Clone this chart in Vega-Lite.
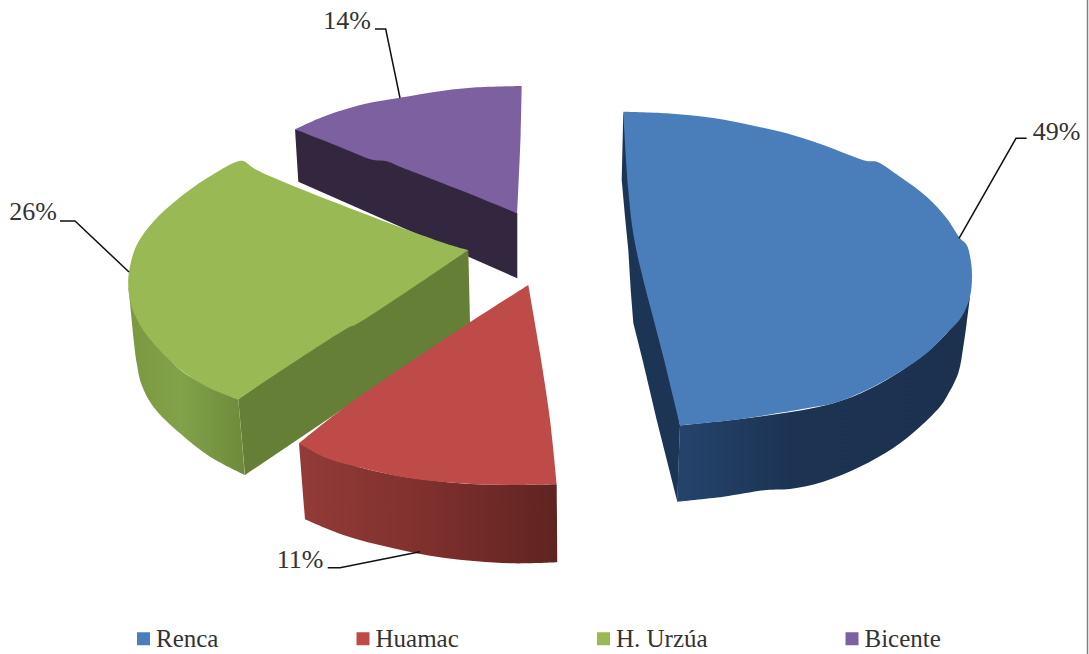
{
  "$schema": "https://vega.github.io/schema/vega-lite/v6.json",
  "width": 1089,
  "height": 654,
  "padding": 0,
  "autosize": {"type": "none"},
  "background": "white",
  "config": {"view": {"stroke": null}},
  "datasets": {
    "outlines": [
      {"slice":"Bicente","face":"wall","i":1,"x":29.5,"y":12.93},{"slice":"Bicente","face":"wall","i":2,"x":29.83,"y":18.17},{"slice":"Bicente","face":"wall","i":3,"x":51.73,"y":27.83},{"slice":"Bicente","face":"wall","i":4,"x":51.73,"y":21.33},{"slice":"Bicente","face":"wall","i":5,"x":40,"y":15.5},
      {"slice":"H. Urzúa","face":"wall","i":1,"x":23.83,"y":39.93},{"slice":"H. Urzúa","face":"wall","i":2,"x":24.5,"y":47.5},{"slice":"H. Urzúa","face":"wall","i":3,"x":47,"y":32.33},{"slice":"H. Urzúa","face":"wall","i":4,"x":46.83,"y":25},{"slice":"H. Urzúa","face":"wall","i":5,"x":35,"y":32},
      {"slice":"H. Urzúa","face":"rim","i":1,"x":12.83,"y":28.67},{"slice":"H. Urzúa","face":"rim","i":1,"x":12.83,"y":28.67},{"slice":"H. Urzúa","face":"rim","i":2,"x":13,"y":30.3},{"slice":"H. Urzúa","face":"rim","i":3,"x":13.67,"y":36.3},{"slice":"H. Urzúa","face":"rim","i":4,"x":14.17,"y":38.5},{"slice":"H. Urzúa","face":"rim","i":5,"x":15.33,"y":40.67},{"slice":"H. Urzúa","face":"rim","i":6,"x":18,"y":43.33},{"slice":"H. Urzúa","face":"rim","i":7,"x":21,"y":45.67},{"slice":"H. Urzúa","face":"rim","i":8,"x":24.5,"y":47.5},{"slice":"H. Urzúa","face":"rim","i":8,"x":24.5,"y":47.5},{"slice":"H. Urzúa","face":"rim","i":9,"x":23.83,"y":39.93},{"slice":"H. Urzúa","face":"rim","i":9,"x":23.83,"y":39.93},{"slice":"H. Urzúa","face":"rim","i":10,"x":17.67,"y":36.67},
      {"slice":"Huamac","face":"rim","i":1,"x":29.9,"y":44.33},{"slice":"Huamac","face":"rim","i":1,"x":29.9,"y":44.33},{"slice":"Huamac","face":"rim","i":2,"x":30.5,"y":51.93},{"slice":"Huamac","face":"rim","i":2,"x":30.5,"y":51.93},{"slice":"Huamac","face":"rim","i":3,"x":34.33,"y":53.5},{"slice":"Huamac","face":"rim","i":4,"x":39.33,"y":54.83},{"slice":"Huamac","face":"rim","i":5,"x":44.33,"y":55.77},{"slice":"Huamac","face":"rim","i":6,"x":51,"y":56.33},{"slice":"Huamac","face":"rim","i":7,"x":55.73,"y":56.23},{"slice":"Huamac","face":"rim","i":7,"x":55.73,"y":56.23},{"slice":"Huamac","face":"rim","i":8,"x":55.67,"y":48.43},{"slice":"Huamac","face":"rim","i":8,"x":55.67,"y":48.43},{"slice":"Huamac","face":"rim","i":9,"x":46,"y":48.33},{"slice":"Huamac","face":"rim","i":10,"x":36.33,"y":46.83},
      {"slice":"Renca","face":"wall","i":1,"x":62.33,"y":11.17},{"slice":"Renca","face":"wall","i":2,"x":62.17,"y":18},{"slice":"Renca","face":"wall","i":3,"x":62.5,"y":21.67},{"slice":"Renca","face":"wall","i":4,"x":62.83,"y":25},{"slice":"Renca","face":"wall","i":5,"x":63.07,"y":29},{"slice":"Renca","face":"wall","i":6,"x":63.33,"y":32.3},{"slice":"Renca","face":"wall","i":7,"x":64.33,"y":36.3},{"slice":"Renca","face":"wall","i":8,"x":65.67,"y":42},{"slice":"Renca","face":"wall","i":9,"x":67.73,"y":50.17},{"slice":"Renca","face":"wall","i":10,"x":68,"y":42.53},
      {"slice":"Renca","face":"rim","i":1,"x":68,"y":42.53},{"slice":"Renca","face":"rim","i":1,"x":68,"y":42.53},{"slice":"Renca","face":"rim","i":2,"x":67.73,"y":50.17},{"slice":"Renca","face":"rim","i":2,"x":67.73,"y":50.17},{"slice":"Renca","face":"rim","i":3,"x":72.33,"y":49.67},{"slice":"Renca","face":"rim","i":4,"x":76.67,"y":49},{"slice":"Renca","face":"rim","i":5,"x":79,"y":48.9},{"slice":"Renca","face":"rim","i":6,"x":82.33,"y":48.17},{"slice":"Renca","face":"rim","i":7,"x":86,"y":46.67},{"slice":"Renca","face":"rim","i":8,"x":89.33,"y":44.8},{"slice":"Renca","face":"rim","i":9,"x":92,"y":42.67},{"slice":"Renca","face":"rim","i":10,"x":94,"y":40.67},{"slice":"Renca","face":"rim","i":11,"x":94.67,"y":39.67},{"slice":"Renca","face":"rim","i":12,"x":95.83,"y":37.3},{"slice":"Renca","face":"rim","i":13,"x":96.33,"y":34.67},{"slice":"Renca","face":"rim","i":14,"x":96.67,"y":32.3},{"slice":"Renca","face":"rim","i":15,"x":97,"y":29.67},{"slice":"Renca","face":"rim","i":15,"x":97,"y":29.67},{"slice":"Renca","face":"rim","i":16,"x":94.67,"y":33.33},{"slice":"Renca","face":"rim","i":17,"x":90,"y":37.17},{"slice":"Renca","face":"rim","i":18,"x":83.33,"y":40.33},
      {"slice":"Bicente","face":"top","i":1,"x":29.5,"y":12.93},{"slice":"Bicente","face":"top","i":1,"x":29.5,"y":12.93},{"slice":"Bicente","face":"top","i":2,"x":32.33,"y":11.67},{"slice":"Bicente","face":"top","i":3,"x":36.33,"y":10.43},{"slice":"Bicente","face":"top","i":4,"x":40,"y":9.77},{"slice":"Bicente","face":"top","i":5,"x":44.33,"y":9.07},{"slice":"Bicente","face":"top","i":6,"x":47.67,"y":8.73},{"slice":"Bicente","face":"top","i":7,"x":52.17,"y":8.6},{"slice":"Bicente","face":"top","i":7,"x":52.17,"y":8.6},{"slice":"Bicente","face":"top","i":8,"x":52.07,"y":13.3},{"slice":"Bicente","face":"top","i":9,"x":51.73,"y":21.33},{"slice":"Bicente","face":"top","i":9,"x":51.73,"y":21.33},{"slice":"Bicente","face":"top","i":10,"x":46,"y":19},{"slice":"Bicente","face":"top","i":11,"x":40,"y":16.67},{"slice":"Bicente","face":"top","i":12,"x":38.67,"y":16.13},{"slice":"Bicente","face":"top","i":13,"x":37.33,"y":16},{"slice":"Bicente","face":"top","i":14,"x":33.5,"y":14.5},
      {"slice":"H. Urzúa","face":"top","i":1,"x":24.33,"y":16.1},{"slice":"H. Urzúa","face":"top","i":2,"x":23.67,"y":16.17},{"slice":"H. Urzúa","face":"top","i":3,"x":20.67,"y":17.83},{"slice":"H. Urzúa","face":"top","i":4,"x":17.67,"y":20},{"slice":"H. Urzúa","face":"top","i":5,"x":15.33,"y":22.17},{"slice":"H. Urzúa","face":"top","i":6,"x":13.67,"y":24.5},{"slice":"H. Urzúa","face":"top","i":7,"x":12.93,"y":27},{"slice":"H. Urzúa","face":"top","i":8,"x":12.83,"y":28.67},{"slice":"H. Urzúa","face":"top","i":9,"x":13.17,"y":30.67},{"slice":"H. Urzúa","face":"top","i":10,"x":14,"y":32.5},{"slice":"H. Urzúa","face":"top","i":11,"x":15.33,"y":34.33},{"slice":"H. Urzúa","face":"top","i":12,"x":17.67,"y":36.67},{"slice":"H. Urzúa","face":"top","i":13,"x":20.67,"y":38.67},{"slice":"H. Urzúa","face":"top","i":14,"x":23.83,"y":39.93},{"slice":"H. Urzúa","face":"top","i":14,"x":23.83,"y":39.93},{"slice":"H. Urzúa","face":"top","i":15,"x":35,"y":32.67},{"slice":"H. Urzúa","face":"top","i":16,"x":35.5,"y":32.5},{"slice":"H. Urzúa","face":"top","i":17,"x":46.83,"y":25},{"slice":"H. Urzúa","face":"top","i":17,"x":46.83,"y":25},{"slice":"H. Urzúa","face":"top","i":18,"x":44.33,"y":24.27},{"slice":"H. Urzúa","face":"top","i":19,"x":25.67,"y":17},
      {"slice":"Huamac","face":"top","i":1,"x":52.83,"y":28.5},{"slice":"Huamac","face":"top","i":1,"x":52.83,"y":28.5},{"slice":"Huamac","face":"top","i":2,"x":46.33,"y":32.67},{"slice":"Huamac","face":"top","i":3,"x":34.33,"y":40.83},{"slice":"Huamac","face":"top","i":4,"x":29.9,"y":44.33},{"slice":"Huamac","face":"top","i":4,"x":29.9,"y":44.33},{"slice":"Huamac","face":"top","i":5,"x":32.67,"y":45.83},{"slice":"Huamac","face":"top","i":6,"x":36.33,"y":46.83},{"slice":"Huamac","face":"top","i":7,"x":41,"y":47.83},{"slice":"Huamac","face":"top","i":8,"x":46,"y":48.33},{"slice":"Huamac","face":"top","i":9,"x":51,"y":48.5},{"slice":"Huamac","face":"top","i":10,"x":55.67,"y":48.43},{"slice":"Huamac","face":"top","i":10,"x":55.67,"y":48.43},{"slice":"Huamac","face":"top","i":11,"x":55,"y":42},{"slice":"Huamac","face":"top","i":12,"x":54,"y":35.33},
      {"slice":"Renca","face":"top","i":1,"x":62.33,"y":11.17},{"slice":"Renca","face":"top","i":1,"x":62.33,"y":11.17},{"slice":"Renca","face":"top","i":2,"x":66.67,"y":11.33},{"slice":"Renca","face":"top","i":3,"x":71.33,"y":11.8},{"slice":"Renca","face":"top","i":4,"x":75,"y":12.5},{"slice":"Renca","face":"top","i":5,"x":78.67,"y":13.33},{"slice":"Renca","face":"top","i":6,"x":82.33,"y":14.5},{"slice":"Renca","face":"top","i":7,"x":86.67,"y":16.1},{"slice":"Renca","face":"top","i":8,"x":87.67,"y":16.17},{"slice":"Renca","face":"top","i":9,"x":90,"y":17.67},{"slice":"Renca","face":"top","i":10,"x":92.67,"y":19.67},{"slice":"Renca","face":"top","i":11,"x":94.67,"y":21.83},{"slice":"Renca","face":"top","i":12,"x":96,"y":23.83},{"slice":"Renca","face":"top","i":13,"x":96.67,"y":24.5},{"slice":"Renca","face":"top","i":14,"x":97.07,"y":26},{"slice":"Renca","face":"top","i":15,"x":97.2,"y":27.67},{"slice":"Renca","face":"top","i":16,"x":97,"y":29.67},{"slice":"Renca","face":"top","i":17,"x":96.17,"y":31.67},{"slice":"Renca","face":"top","i":18,"x":94.67,"y":33.33},{"slice":"Renca","face":"top","i":19,"x":92.67,"y":35.33},{"slice":"Renca","face":"top","i":20,"x":90,"y":37.17},{"slice":"Renca","face":"top","i":21,"x":86.67,"y":39},{"slice":"Renca","face":"top","i":22,"x":83.33,"y":40.33},{"slice":"Renca","face":"top","i":23,"x":80.67,"y":40.83},{"slice":"Renca","face":"top","i":24,"x":76.67,"y":41.5},{"slice":"Renca","face":"top","i":25,"x":73.33,"y":42},{"slice":"Renca","face":"top","i":26,"x":68,"y":42.53},{"slice":"Renca","face":"top","i":26,"x":68,"y":42.53},{"slice":"Renca","face":"top","i":27,"x":66.33,"y":35.67},{"slice":"Renca","face":"top","i":28,"x":63.5,"y":24.33},{"slice":"Renca","face":"top","i":29,"x":62.83,"y":19}
    ],
    "leaders": [
      {"slice":"Renca","i":1,"x":95.9,"y":23.83},{"slice":"Renca","i":2,"x":101.6,"y":13.83},{"slice":"Renca","i":3,"x":102.67,"y":13.83},
      {"slice":"Bicente","i":1,"x":37.5,"y":2.9},{"slice":"Bicente","i":2,"x":38.57,"y":2.9},{"slice":"Bicente","i":3,"x":40,"y":9.8},
      {"slice":"H. Urzúa","i":1,"x":6,"y":22.1},{"slice":"H. Urzúa","i":2,"x":7.5,"y":22.1},{"slice":"H. Urzúa","i":3,"x":12.9,"y":27.2},
      {"slice":"Huamac","i":1,"x":32.77,"y":56.77},{"slice":"Huamac","i":2,"x":34,"y":56.77},{"slice":"Huamac","i":3,"x":42,"y":55.17}
    ],
    "shares": [
      {"slice":"Renca","share":0.49,"x":105.65,"y":13.2},
      {"slice":"Huamac","share":0.11,"x":30,"y":56},
      {"slice":"H. Urzúa","share":0.26,"x":3.3,"y":21.2},
      {"slice":"Bicente","share":0.14,"x":34.7,"y":2.1}
    ]
  },
  "data": {"name": "outlines"},
  "encoding": {
    "x": {"field": "x", "type": "quantitative", "axis": null, "scale": {"domain": [0, 108.9], "nice": false, "zero": false}},
    "y": {"field": "y", "type": "quantitative", "axis": null, "scale": {"domain": [65.4, 0], "nice": false, "zero": false}}
  },
  "layer": [
    {
      "transform": [{"filter": "datum.slice === 'Bicente' && datum.face === 'wall'"}],
      "mark": {"type": "line", "interpolate": "linear-closed", "strokeWidth": 0, "fill": "#32273f"},
      "encoding": {"order": {"field": "i", "type": "quantitative"}}
    },
    {
      "transform": [{"filter": "datum.slice === 'H. Urzúa' && datum.face === 'rim'"}],
      "mark": {"type": "line", "interpolate": "catmull-rom-closed", "strokeWidth": 0,
        "fill": {"gradient": "linear", "x1": 0, "y1": 0, "x2": 1, "y2": 0, "stops": [
          {"offset": 0, "color": "#7a983f"},
          {"offset": 0.45, "color": "#82a249"},
          {"offset": 1, "color": "#6d8a3a"}
        ]}},
      "encoding": {"order": {"field": "i", "type": "quantitative"}}
    },
    {
      "transform": [{"filter": "datum.slice === 'H. Urzúa' && datum.face === 'wall'"}],
      "mark": {"type": "line", "interpolate": "linear-closed", "strokeWidth": 0, "fill": "#667f37"},
      "encoding": {"order": {"field": "i", "type": "quantitative"}}
    },
    {
      "transform": [{"filter": "datum.slice === 'Huamac' && datum.face === 'rim'"}],
      "mark": {"type": "line", "interpolate": "catmull-rom-closed", "strokeWidth": 0,
        "fill": {"gradient": "linear", "x1": 0, "y1": 0, "x2": 1, "y2": 0, "stops": [
          {"offset": 0, "color": "#933b38"},
          {"offset": 0.5, "color": "#7e302d"},
          {"offset": 1, "color": "#5f2421"}
        ]}},
      "encoding": {"order": {"field": "i", "type": "quantitative"}}
    },
    {
      "transform": [{"filter": "datum.slice === 'Renca' && datum.face === 'wall'"}],
      "mark": {"type": "line", "interpolate": "linear-closed", "strokeWidth": 0, "fill": "#1c3554"},
      "encoding": {"order": {"field": "i", "type": "quantitative"}}
    },
    {
      "transform": [{"filter": "datum.slice === 'Renca' && datum.face === 'rim'"}],
      "mark": {"type": "line", "interpolate": "catmull-rom-closed", "strokeWidth": 0,
        "fill": {"gradient": "linear", "x1": 0, "y1": 0, "x2": 1, "y2": 0, "stops": [
          {"offset": 0, "color": "#25446c"},
          {"offset": 0.4, "color": "#1c3352"},
          {"offset": 1, "color": "#1b314e"}
        ]}},
      "encoding": {"order": {"field": "i", "type": "quantitative"}}
    },
    {
      "transform": [{"filter": "datum.face === 'top'"}],
      "mark": {"type": "line", "interpolate": "catmull-rom-closed", "strokeWidth": 0},
      "encoding": {
        "order": {"field": "i", "type": "quantitative"},
        "fill": {
          "field": "slice",
          "type": "nominal",
          "scale": {
            "domain": ["Renca", "Huamac", "H. Urzúa", "Bicente"],
            "range": ["#4a7ebb", "#be4b48", "#98b954", "#7d60a0"]
          },
          "legend": {
            "title": null,
            "orient": "none",
            "legendX": 131,
            "legendY": 626,
            "direction": "horizontal",
            "columns": 4,
            "columnPadding": 131.5,
            "symbolType": "square",
            "symbolSize": 169,
            "symbolStrokeWidth": 0,
            "labelFont": "Liberation Serif",
            "labelFontSize": 25,
            "labelColor": "#333333",
            "labelOffset": 0,
            "labelLimit": 200
          }
        }
      }
    },
    {
      "data": {"name": "leaders"},
      "mark": {"type": "line", "stroke": "#111111", "strokeWidth": 1.5},
      "encoding": {
        "detail": {"field": "slice"},
        "order": {"field": "i", "type": "quantitative"}
      }
    },
    {
      "data": {"name": "shares"},
      "mark": {"type": "text", "font": "Liberation Serif", "fontSize": 26, "fill": "#333333", "align": "center", "baseline": "middle"},
      "encoding": {"text": {"field": "share", "type": "quantitative", "format": ".0%"}}
    },
    {
      "data": {"values": [{"edge": 108.75}]},
      "mark": {"type": "rule", "stroke": "#808080", "strokeWidth": 1.5},
      "encoding": {"x": {"field": "edge", "type": "quantitative"}, "y": {"value": 0}, "y2": {"value": 654}}
    }
  ]
}
